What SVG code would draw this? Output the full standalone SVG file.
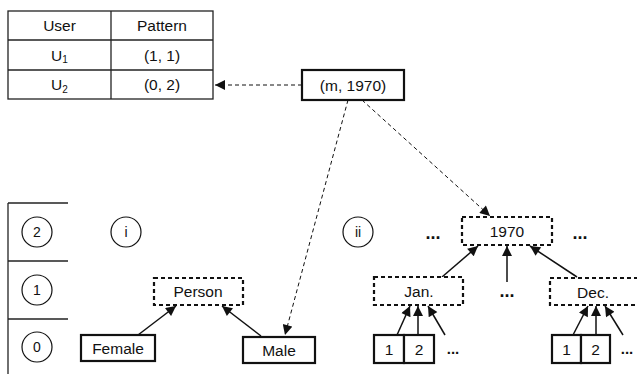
<svg xmlns="http://www.w3.org/2000/svg" width="637" height="374" viewBox="0 0 637 374">
<defs>
<style>
text{font-family:"Liberation Sans",Arial,sans-serif;font-size:15.5px;fill:#111;text-anchor:middle;dominant-baseline:central}
.sm{font-size:14px}
.dots{font-size:18px;font-weight:bold}
.dots2{font-size:15px;font-weight:bold}
.tbl{fill:none;stroke:#222;stroke-width:1.3}
.solid{fill:#fff;stroke:#111;stroke-width:2.2}
.dbox{fill:#fff;stroke:#111;stroke-width:2.2;stroke-dasharray:4 3}
.circ{fill:none;stroke:#111;stroke-width:1.2}
.arr{stroke:#111;stroke-width:1.5;fill:none;marker-end:url(#ah)}
.darr{stroke:#111;stroke-width:1;fill:none;stroke-dasharray:4 3;marker-end:url(#ah)}
</style>
<marker id="ah" viewBox="0 0 10 10" refX="10" refY="5" markerWidth="12" markerHeight="10" markerUnits="userSpaceOnUse" orient="auto">
<path d="M0,0 L10,5 L0,10 z" fill="#111"/>
</marker>
</defs>

<g id="table">
<rect class="tbl" x="8" y="11" width="205" height="88"/>
<line class="tbl" x1="111" y1="11" x2="111" y2="99"/>
<line class="tbl" x1="8" y1="40" x2="213" y2="40"/>
<line class="tbl" x1="8" y1="70" x2="213" y2="70"/>
<text x="59.5" y="25.5">User</text>
<text x="162" y="25.5">Pattern</text>
<text x="59.5" y="55">U<tspan font-size="10" dy="4">1</tspan></text>
<text x="162" y="55">(1, 1)</text>
<text x="59.5" y="84.5">U<tspan font-size="10" dy="4">2</tspan></text>
<text x="162" y="84.5">(0, 2)</text>
</g>

<g id="levels">
<line class="tbl" x1="8" y1="203" x2="8" y2="374"/>
<line class="tbl" x1="8" y1="203" x2="68" y2="203"/>
<line class="tbl" x1="8" y1="261" x2="68" y2="261"/>
<line class="tbl" x1="8" y1="319" x2="68" y2="319"/>
<circle class="circ" cx="37" cy="232" r="15"/><text class="sm" x="37" y="232">2</text>
<circle class="circ" cx="37" cy="290" r="15"/><text class="sm" x="37" y="290">1</text>
<circle class="circ" cx="37" cy="347" r="15"/><text class="sm" x="37" y="347">0</text>
</g>

<g id="label-i"><circle class="circ" cx="126" cy="232" r="15"/><text class="sm" x="126" y="232">i</text></g>
<g id="label-ii"><circle class="circ" cx="358" cy="232" r="15"/><text class="sm" x="358" y="232">ii</text></g>

<g id="connectors">
<path class="darr" d="M302,85 L215,85"/>
<path class="darr" d="M348,100 L285,335"/>
<path class="darr" d="M362,100 L490,216"/>
<path class="arr" d="M138,335 L176,306"/>
<path class="arr" d="M261,336 L222,306"/>
<path class="arr" d="M442,277 L478,246"/>
<path class="arr" d="M507,282 L507,246"/>
<path class="arr" d="M577,277 L530,246"/>
<path class="arr" d="M397,335 L410,306"/>
<path class="arr" d="M418,335 L418,306"/>
<path class="arr" d="M445,335 L428,306"/>
<path class="arr" d="M573,335 L588,306"/>
<path class="arr" d="M596,335 L596,306"/>
<path class="arr" d="M623,335 L605,306"/>
</g>

<g id="m1970"><rect class="solid" x="302" y="70" width="102" height="30"/><text x="353" y="85">(m, 1970)</text></g>
<g id="person"><rect class="dbox" x="154" y="278" width="89" height="27"/><text x="198" y="291">Person</text></g>
<g id="female"><rect class="solid" x="81" y="335" width="74" height="26"/><text x="118" y="348">Female</text></g>
<g id="male"><rect class="solid" x="243" y="337" width="72" height="26"/><text x="279" y="350">Male</text></g>

<g id="y1970"><rect class="dbox" x="462" y="217" width="90" height="28"/><text x="507" y="231">1970</text></g>
<g id="jan"><rect class="dbox" x="374" y="277" width="89" height="28"/><text x="419" y="291">Jan.</text></g>
<g id="dec"><rect class="dbox" x="550" y="278" width="92" height="27"/><text x="593" y="292">Dec.</text></g>

<g id="jan-days">
<rect class="solid" x="374" y="335" width="30" height="28"/><text x="389" y="349">1</text>
<rect class="solid" x="404" y="335" width="30" height="28"/><text x="419" y="349">2</text>
</g>
<g id="dec-days">
<rect class="solid" x="552" y="335" width="29" height="28"/><text x="566.5" y="349">1</text>
<rect class="solid" x="581" y="335" width="29" height="28"/><text x="595.5" y="349">2</text>
</g>

<g id="ellipses">
<text class="dots" x="433" y="233">...</text>
<text class="dots" x="580" y="233">...</text>
<text class="dots" x="507" y="291">...</text>
<text class="dots2" x="453" y="348">...</text>
<text class="dots2" x="627" y="348">...</text>
</g>
</svg>
